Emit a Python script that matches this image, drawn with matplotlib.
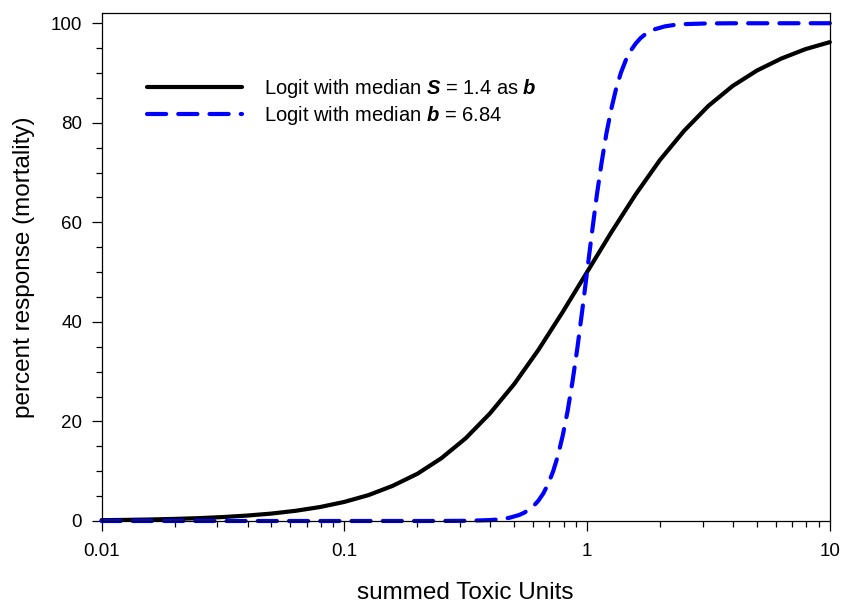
import matplotlib
matplotlib.use("Agg")
import matplotlib.pyplot as plt
from matplotlib.ticker import FixedLocator, MultipleLocator, NullFormatter

plt.rcParams['font.family'] = ['Liberation Sans', 'DejaVu Sans']
plt.rcParams['mathtext.fontset'] = 'custom'
plt.rcParams['mathtext.bf'] = 'Liberation Sans:italic:bold'
plt.rcParams['mathtext.rm'] = 'Liberation Sans'

# values
tu_black = [0.01, 0.0126, 0.0158, 0.02, 0.0251, 0.0316, 0.0398, 0.0501, 0.0631, 0.0794,
            0.1, 0.126, 0.158, 0.2, 0.251, 0.316, 0.398, 0.501, 0.631, 0.794,
            1.0, 1.259, 1.585, 1.995, 2.512, 3.162, 3.981, 5.012, 6.31, 7.943, 10.0]
pct_black = [0.16, 0.22, 0.30, 0.42, 0.57, 0.79, 1.09, 1.49, 2.05, 2.80,
             3.83, 5.21, 7.05, 9.48, 12.6, 16.6, 21.6, 27.5, 34.4, 42.0,
             50.0, 58.0, 65.6, 72.5, 78.4, 83.4, 87.4, 90.5, 92.9, 94.8, 96.2]

tu_blue = [0.01, 0.1, 0.2, 0.251, 0.316, 0.398, 0.4365, 0.4786, 0.5248, 0.5495, 0.5754,
           0.6026, 0.631, 0.6607, 0.6918, 0.7244, 0.7586, 0.7943, 0.8318, 0.871, 0.912,
           0.955, 1.0, 1.047, 1.096, 1.148, 1.202, 1.259, 1.318, 1.380, 1.445, 1.514,
           1.585, 1.660, 1.738, 1.820, 1.905, 2.089, 2.291, 2.512, 3.162, 3.981, 10.0]
pct_blue = [0.0, 0.0, 0.002, 0.008, 0.038, 0.18, 0.34, 0.64, 1.20, 1.64, 2.23,
            3.03, 4.11, 5.55, 7.45, 9.93, 13.1, 17.2, 22.1, 28.0, 34.7,
            42.2, 50.0, 57.8, 65.3, 72.0, 77.9, 82.8, 86.9, 90.1, 92.6, 94.5,
            95.9, 97.0, 97.8, 98.4, 98.8, 99.36, 99.66, 99.82, 99.96, 99.99, 100.0]

label_black = r"Logit with median $\mathbf{S}$ = 1.4 as $\mathbf{b}$"
label_blue = r"Logit with median $\mathbf{b}$ = 6.84"

fig = plt.figure(figsize=(8.41, 6.03), dpi=100)
ax = fig.add_axes([0.1207, 0.136, 0.866, 0.842])

ax.plot(tu_black, pct_black, color='black', lw=3, solid_capstyle='round',
        solid_joinstyle='round', clip_on=False, label=label_black)
ax.plot(tu_blue, pct_blue, color='#0000ff', lw=3, dashes=(4.6, 2.9),
        dash_capstyle='round', dash_joinstyle='round', clip_on=False, label=label_blue)

ax.set_xscale('log')
ax.set_xlim(0.01, 10)
ax.set_ylim(0, 102)
ax.xaxis.set_major_locator(FixedLocator([0.01, 0.1, 1, 10]))
ax.set_xticklabels(['0.01', '0.1', '1', '10'])
ax.xaxis.set_minor_formatter(NullFormatter())
ax.yaxis.set_major_locator(FixedLocator([0, 20, 40, 60, 80, 100]))
ax.yaxis.set_minor_locator(MultipleLocator(5))

for s in ax.spines.values():
    s.set_linewidth(0.9)
ax.tick_params(which='major', direction='out', length=7, width=0.9, labelsize=13.5)
ax.tick_params(which='minor', direction='out', length=4.5, width=0.9)
ax.tick_params(axis='x', which='major', pad=9)
ax.tick_params(axis='y', which='major', pad=7)

ax.set_xlabel('summed Toxic Units', fontsize=17.5, labelpad=16)
ax.set_ylabel('percent response (mortality)', fontsize=17.5, labelpad=11)

ax.legend(loc='upper left', bbox_to_anchor=(0.052, 0.89), frameon=False, fontsize=14.5,
          handlelength=4.72, handletextpad=1.09, labelspacing=0.2, borderaxespad=0)

fig.savefig('out.png', dpi=100)
